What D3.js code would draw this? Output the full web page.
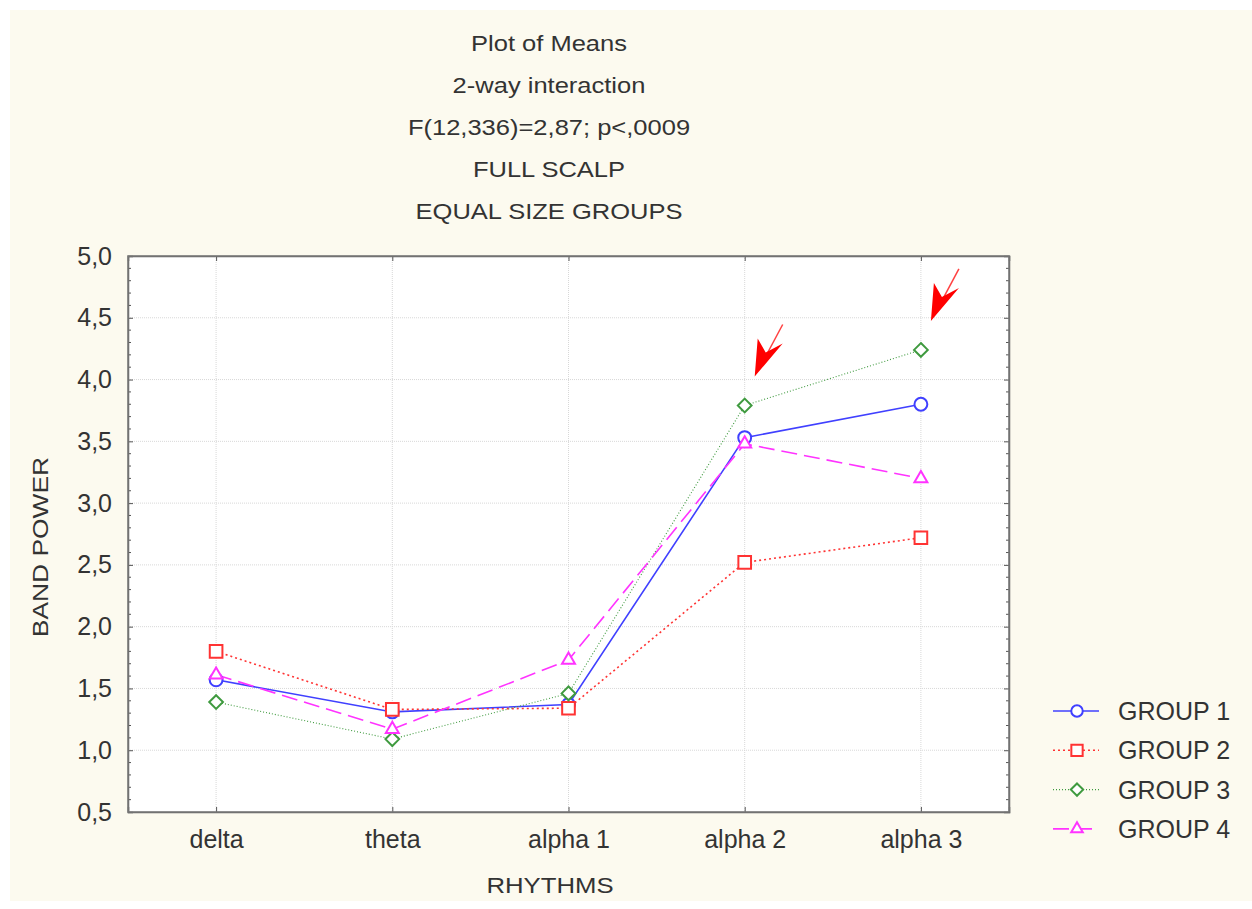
<!DOCTYPE html>
<html>
<head>
<meta charset="utf-8">
<script src="https://cdn.jsdelivr.net/npm/d3@7"></script>
<style>
  body { margin: 0; background: #fff; }
  text { font-family: "Liberation Sans", Arial, sans-serif; fill: #333; }
</style>
</head>
<body>
<div id="chart"></div>
<script>
// data
var rhythms = ["delta", "theta", "alpha 1", "alpha 2", "alpha 3"];
var group1 = [1.57, 1.31, 1.37, 3.53, 3.80];
var group2 = [1.80, 1.33, 1.34, 2.52, 2.72];
var group3 = [1.39, 1.09, 1.46, 3.79, 4.24];
var group4 = [1.61, 1.17, 1.73, 3.48, 3.20];
var groupNames = ["GROUP 1", "GROUP 2", "GROUP 3", "GROUP 4"];
var yTicks = [0.5, 1.0, 1.5, 2.0, 2.5, 3.0, 3.5, 4.0, 4.5, 5.0];
var titleLines = ["Plot of Means", "2-way interaction", "F(12,336)=2,87; p<,0009", "FULL SCALP", "EQUAL SIZE GROUPS"];
// arrows point at these (category, value)
var arrowTargets = [["alpha 2", 3.79], ["alpha 3", 4.24]];

var W = 1252, H = 909;
var pLeft = 128, pTop = 256, pRight = 1009, pBottom = 812;

var svg = d3.select("#chart").append("svg")
  .attr("width", W)
  .attr("height", H);

svg.append("rect")
  .attr("x", 10).attr("y", 10)
  .attr("width", W - 10).attr("height", H - 18)
  .attr("fill", "#fcfaef");

var x = d3.scalePoint().domain(rhythms).range([pLeft, pRight]).padding(0.5);
var y = d3.scaleLinear().domain([0.5, 5.0]).range([pBottom, pTop]);

svg.append("rect")
  .attr("x", pLeft).attr("y", pTop)
  .attr("width", pRight - pLeft).attr("height", pBottom - pTop)
  .attr("fill", "#fff");

// grid
svg.append("g").selectAll("line")
  .data(yTicks.slice(1, -1))
  .enter().append("line")
  .attr("x1", pLeft).attr("x2", pRight)
  .attr("y1", function(d) { return y(d); })
  .attr("y2", function(d) { return y(d); })
  .attr("stroke", "#d8d8d8")
  .attr("stroke-dasharray", "1,1");

svg.append("g").selectAll("line")
  .data(rhythms)
  .enter().append("line")
  .attr("y1", pTop).attr("y2", pBottom)
  .attr("x1", function(d) { return x(d); })
  .attr("x2", function(d) { return x(d); })
  .attr("stroke", "#d8d8d8")
  .attr("stroke-dasharray", "1,1");

// axes with inward ticks
var yAxis = d3.axisLeft(y).tickValues(yTicks).tickSize(-5).tickPadding(16)
  .tickFormat(function(d) { return d3.format(".1f")(d).replace(".", ","); });
var gy = svg.append("g").attr("transform", "translate(" + pLeft + ",0)").call(yAxis);
gy.selectAll("text").style("font-size", "25px").attr("fill", "#333");

var minor = d3.range(0.6, 5.0, 0.1).filter(function(v) {
  return Math.abs(v * 2 - Math.round(v * 2)) > 0.01;
});
svg.append("g").selectAll("line")
  .data(minor)
  .enter().append("line")
  .attr("x1", pLeft).attr("x2", pLeft + 3)
  .attr("y1", function(d) { return y(d); })
  .attr("y2", function(d) { return y(d); })
  .attr("stroke", "#555");

svg.append("g").attr("transform", "translate(" + pRight + ",0)")
  .call(d3.axisRight(y).tickValues(yTicks).tickSize(-5).tickFormat(""));
svg.append("g").selectAll("line")
  .data(minor)
  .enter().append("line")
  .attr("x1", pRight - 3).attr("x2", pRight)
  .attr("y1", function(d) { return y(d); })
  .attr("y2", function(d) { return y(d); })
  .attr("stroke", "#555");

var xAxis = d3.axisBottom(x).tickSize(-5).tickPadding(18);
var gx = svg.append("g").attr("transform", "translate(0," + pBottom + ")").call(xAxis);
gx.selectAll("text").style("font-size", "25px").attr("fill", "#333");
svg.append("g").attr("transform", "translate(0," + pTop + ")")
  .call(d3.axisTop(x).tickSize(-5).tickFormat(""));

svg.selectAll(".domain").attr("stroke", "#666").attr("stroke-width", 1.5);
svg.selectAll(".tick line").attr("stroke", "#555");

svg.append("rect")
  .attr("x", pLeft).attr("y", pTop)
  .attr("width", pRight - pLeft).attr("height", pBottom - pTop)
  .attr("fill", "none")
  .attr("stroke", "#777")
  .attr("stroke-width", 1.5);

// titles (the source text is a little stretched sideways)
svg.append("g").selectAll("text")
  .data(titleLines)
  .enter().append("text")
  .attr("transform", function(d, i) { return "translate(549," + (51 + i * 42) + ") scale(1.16,1)"; })
  .attr("text-anchor", "middle")
  .style("font-size", "22px")
  .text(function(d) { return d; });

svg.append("text")
  .attr("transform", "translate(48,547) rotate(-90) scale(1.2,1)")
  .attr("text-anchor", "middle")
  .style("font-size", "22px")
  .text("BAND POWER");

svg.append("text")
  .attr("transform", "translate(550,893) scale(1.17,1)")
  .attr("text-anchor", "middle")
  .style("font-size", "22px")
  .text("RHYTHMS");

// series
var series = [
  { name: groupNames[0], values: group1, color: "#4040ff", dash: null, width: 1.6, symbol: d3.symbolCircle, size: 130 },
  { name: groupNames[1], values: group2, color: "#ff3333", dash: "2,3", width: 1.6, symbol: d3.symbolSquare, size: 160 },
  { name: groupNames[2], values: group3, color: "#3f9a3f", dash: "1,2", width: 1.1, symbol: d3.symbolDiamond2, size: 120 },
  { name: groupNames[3], values: group4, color: "#ff33ff", dash: "16,7", width: 1.6, symbol: d3.symbolTriangle2, size: 120 }
];

var line = d3.line()
  .x(function(d, i) { return x(rhythms[i]); })
  .y(function(d) { return y(d); });

series.forEach(function(s) {
  svg.append("path")
    .attr("d", line(s.values))
    .attr("fill", "none")
    .attr("stroke", s.color)
    .attr("stroke-width", s.width)
    .attr("stroke-dasharray", s.dash);
});

series.forEach(function(s) {
  svg.append("g").selectAll("path")
    .data(s.values)
    .enter().append("path")
    .attr("d", d3.symbol().type(s.symbol).size(s.size))
    .attr("transform", function(d, i) { return "translate(" + x(rhythms[i]) + "," + y(d) + ")"; })
    .attr("fill", "#fff")
    .attr("stroke", s.color)
    .attr("stroke-width", 2);
});

// red arrows
arrowTargets.forEach(function(a) {
  var tx = x(a[0]) + 10, ty = y(a[1]) - 29;
  var g = svg.append("g").attr("transform", "translate(" + tx + "," + ty + ")");
  g.append("line")
    .attr("x1", 12).attr("y1", -22).attr("x2", 28).attr("y2", -52)
    .attr("stroke", "#ff4040").attr("stroke-width", 1.5);
  g.append("path")
    .attr("d", "M0,0 L3,-38 L11,-24 L28,-33 Z")
    .attr("fill", "#ff0000");
});

// legend
var lg = svg.append("g").selectAll("g")
  .data(series)
  .enter().append("g")
  .attr("transform", function(d, i) { return "translate(1053," + (711 + i * 39.3) + ")"; });

lg.append("line")
  .attr("x1", 0).attr("x2", 46)
  .attr("stroke", function(d) { return d.color; })
  .attr("stroke-width", function(d) { return d.width; })
  .attr("stroke-dasharray", function(d) { return d.dash; });
lg.append("path")
  .attr("d", function(d) { return d3.symbol().type(d.symbol).size(d.size * 0.8)(); })
  .attr("transform", "translate(24,0)")
  .attr("fill", "#fff")
  .attr("stroke", function(d) { return d.color; })
  .attr("stroke-width", 2);
lg.append("text")
  .attr("x", 65)
  .attr("y", 9)
  .style("font-size", "25px")
  .text(function(d) { return d.name; });
</script>
</body>
</html>
